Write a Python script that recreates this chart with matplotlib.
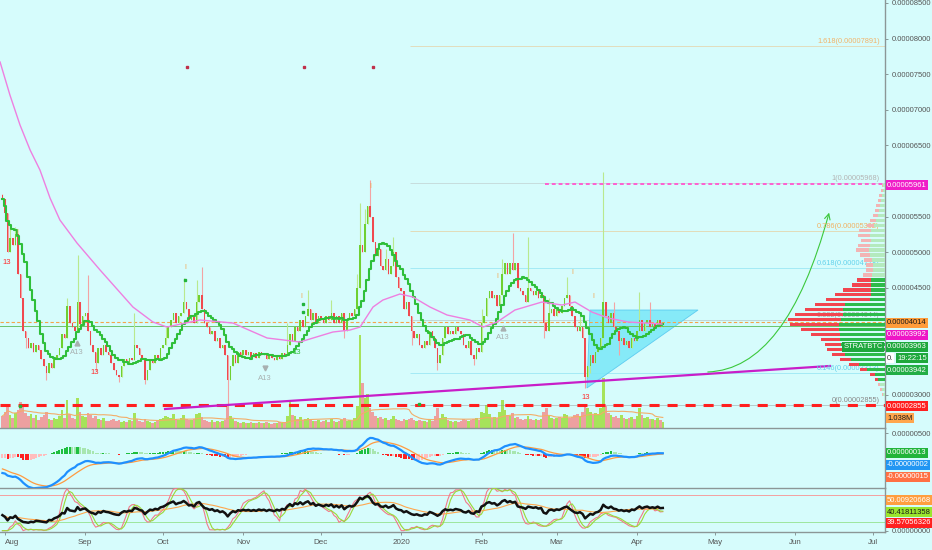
import matplotlib
matplotlib.use('Agg')
import matplotlib.pyplot as plt
import matplotlib.dates as mdates
from matplotlib.patches import Polygon
from matplotlib.ticker import FuncFormatter
import numpy as np
import pandas as pd

plt.rcParams['font.family'] = ['Liberation Sans', 'DejaVu Sans']

BG = '#d6fcfc'
W, H = 932, 550

# ---- daily candles (price in units of 1e-8 BTC), first candle 2019-07-31
start_day = '2019-07-31'
first_open = 5800
closes = [
    5750, 5550, 5000, 5200, 5100, 5250, 4700, 4350, 3900, 3800, 3650,
    3720, 3600, 3700, 3620, 3500, 3400, 3300, 3450, 3380, 3500,
    3560, 3650, 3850, 3800, 4250, 4000, 3950, 3900, 4300, 3990,
    4100, 4150, 3900, 3700, 3600, 3450, 3650, 3550, 3700, 3600,
    3560, 3450, 3350, 3280, 3250, 3400, 3500, 3450, 3520, 3480,
    3700, 3650, 3550, 3500, 3200, 3350, 3500, 3450, 3550, 3500,
    3650, 3700, 3800, 3950, 4050, 4150, 4000, 4100, 4150, 4300,
    4200, 4050, 4100, 4000, 4300, 4400, 4200, 4000, 3950, 3850,
    3900, 3750, 3800, 3650, 3700, 3550, 3200, 3400, 3550, 3450,
    3600, 3550, 3620, 3560, 3600, 3530, 3580, 3520, 3600, 3550,
    3580, 3500, 3560, 3520, 3480, 3550, 3500, 3580, 3540, 3700,
    3850, 3750, 3950, 3900, 4050, 3950, 4100, 4200, 4050, 4150,
    4000, 4100, 4050, 4000, 4100, 4050, 4150, 4000, 4100, 4000,
    4150, 3900, 4050, 4150, 4100, 4200, 4500, 5100, 5000, 5400,
    5650, 5500, 5150, 4950, 5050, 4800, 4750, 4900, 4700, 4800,
    5000, 4650, 4500, 4450, 4200, 4300, 4100, 3900, 3800, 3850,
    3700, 3650, 3750, 3700, 3900, 3800, 3650, 3450, 3550, 3800,
    3950, 3850, 3900, 3850, 3950, 3900, 3850, 3700, 3650, 3750,
    3550, 3500, 3650, 3600, 4000, 4100, 4350, 4450, 4350, 4400,
    4250, 4400, 4700, 4850, 4700, 4850, 4750, 4850, 4500, 4450,
    4400, 4300, 4500, 4450, 4400, 4450, 4350, 4400, 4000, 3900,
    4150, 4200, 4100, 4200, 4150, 4250, 4350, 4400, 4250, 4100,
    3950, 3900, 3950, 3800, 3250, 3400, 3550, 3450, 3600, 3650,
    3800, 4300, 4100, 4000, 4150, 3950, 3900, 3750, 3800, 3700,
    3750, 3650, 3800, 3750, 3900, 4050, 3900, 4000, 4050, 3950,
    4000, 3950, 4050, 3950, 3963,
]
# notable wicks, keyed by days after 2019-08-01
wick_highs = {-1: 5820, 2: 5400, 4: 5350, 24: 4350, 28: 4960, 32: 4680, 50: 4150,
              62: 3950, 69: 4640, 74: 4610, 76: 4790, 109: 4000, 117: 4470, 126: 4330,
              136: 4700, 137: 5690, 139: 5600, 141: 6014, 147: 5050, 150: 5213,
              184: 4200, 192: 4900, 196: 5270, 202: 5213, 210: 4350, 217: 4650,
              222: 4100, 231: 6126, 235: 4300, 245: 4440, 249: 4300}
wick_lows = {8: 3650, 16: 3200, 35: 3330, 44: 3180, 54: 3150, 86: 2868, 112: 3750,
             131: 3800, 157: 3700, 167: 3345, 181: 3420, 208: 3800, 224: 3092,
             226: 3300, 237: 3550}

# volume in millions
volume_m = [
    1.2, 1.6, 2.4, 1.3, 1.0, 1.5, 1.8, 2.6, 2.2, 1.5, 1.2,
    1.4, 1.0, 1.3, 0.8, 1.1, 1.3, 1.6, 0.9, 0.8, 1.0,
    0.9, 1.2, 1.8, 1.0, 2.8, 1.4, 1.0, 0.9, 3.0, 1.6,
    1.2, 1.1, 1.5, 1.3, 1.0, 1.2, 0.9, 0.8, 1.0, 0.7,
    0.7, 0.8, 0.9, 0.7, 0.8, 0.6, 0.7, 0.6, 0.8, 0.7,
    1.5, 0.9, 0.7, 0.6, 0.9, 0.7, 0.6, 0.5, 0.6, 0.7,
    0.9, 1.0, 1.2, 1.1, 1.0, 1.4, 0.9, 0.8, 1.0, 1.3,
    0.9, 0.8, 0.8, 0.9, 1.4, 1.5, 1.1, 0.8, 0.7, 0.6,
    0.8, 0.6, 0.7, 0.6, 0.7, 0.8, 2.4, 1.2, 0.9, 0.7,
    0.6, 0.5, 0.6, 0.5, 0.5, 0.6, 0.5, 0.5, 0.6, 0.5,
    0.5, 0.6, 0.5, 0.4, 0.5, 0.5, 0.6, 0.5, 0.6, 1.2,
    2.6, 1.3, 1.2, 0.9, 1.1, 0.8, 0.9, 1.0, 0.8, 0.7,
    0.7, 0.8, 0.6, 0.7, 0.8, 0.6, 0.9, 0.7, 0.6, 0.7,
    0.8, 1.0, 0.7, 0.8, 0.7, 1.0, 2.2, 9.3, 4.5, 3.0,
    3.4, 2.0, 1.6, 1.2, 1.0, 1.1, 0.9, 1.0, 0.8, 0.9,
    1.2, 0.9, 0.8, 0.7, 0.9, 0.8, 0.9, 1.0, 0.8, 0.7,
    0.8, 0.7, 0.7, 0.6, 0.9, 0.7, 1.2, 2.0, 1.0, 1.4,
    1.1, 0.8, 0.7, 0.6, 0.7, 0.6, 0.7, 0.9, 0.8, 0.7,
    0.8, 0.9, 1.0, 0.8, 1.6, 1.5, 2.3, 1.4, 1.0, 1.1,
    1.0, 1.6, 2.8, 1.8, 1.3, 1.2, 1.5, 1.0, 1.1, 0.9,
    0.8, 0.9, 1.2, 0.9, 0.8, 0.9, 0.8, 0.9, 1.6, 2.0,
    1.2, 1.0, 0.9, 1.0, 1.1, 1.0, 1.4, 1.3, 1.0, 1.1,
    1.3, 1.4, 1.2, 1.6, 2.4, 2.0, 1.6, 1.3, 1.5, 1.4,
    2.0, 5.0, 2.2, 1.5, 1.3, 1.1, 1.2, 1.0, 1.3, 1.0,
    0.9, 1.0, 1.1, 0.9, 1.2, 2.0, 1.3, 1.0, 1.1, 0.9,
    0.9, 0.8, 1.0, 0.8, 0.6,
]

# long moving average (pink)
ma_days = [-1.9, 1.9, 5.8, 9.7, 13.5, 17.4, 21.2, 27.8, 36.7, 49.4, 57.1, 62.5, 75.3, 88.0,
           101.2, 113.9, 126.6, 133.2, 137.1, 142.1, 145.9, 152.5, 157.5, 164.1, 170.7,
           179.5, 184.6, 190.0, 196.9, 207.3, 215.1, 220.1, 226.6, 232.8, 240.5, 253.7]
ma_vals = [7671, 7208, 6786, 6435, 6154, 5760, 5452, 5129, 4750, 4230, 4020, 3949, 4048, 4005,
           3795, 3739, 3879, 3907, 3949, 4230, 4328, 4413, 4371, 4230, 4118,
           4048, 3949, 4019, 4188, 4300, 4258, 4300, 4160, 4076, 4020, 3991]

# fibonacci retracement
fib_low, fib_high = 2855, 5968
fib_levels = [1.618, 1, 0.786, 0.618, 0.382, 0.146, 0]
fib_labels = ['1.618(0.00007891)', '1(0.00005968)', '0.786(0.00005302)',
              '0.618(0.00004778)', '0.382(0.00004044)', '0.146(0.00003313)',
              '0(0.00002855)']
fib_colors = ['#f2b46a', '#b4b4b4', '#f2b060', '#62d2ec', '#a4a4a4', '#62d2ec', '#8a8a8a']
fib_start_day = 156.4

# drawings
trend_days = [61.8, 318.5]
trend_prices = [2798, 3402]
triangle_days = [224.7, 225.9, 267.6]
triangle_prices = [3093, 4188, 4188]
target_level = 5961
target_start_day = 208.5
arrow_start = (270.3, 3317)
arrow_end = (318.5, 5593)

# visible range volume profile
profile_prices = list(range(5940, 2999, -70))
profile_total = [3, 4, 6, 7, 9, 10, 12, 15, 18, 26, 27, 24, 27, 29, 25, 21, 19, 19, 22, 28,
                 33, 42, 50, 59, 70, 80, 90, 97, 95, 84, 74, 64, 60, 58, 53, 45, 36, 25,
                 15, 10, 7, 5, 3]
profile_up = [2, 2, 3, 4, 5, 6, 7, 9, 11, 14, 15, 14, 15, 16, 15, 13, 12, 12, 13, 14,
              14, 14, 14, 15, 40, 42, 42, 44, 46, 46, 45, 45, 44, 42, 40, 34, 26, 18,
              10, 7, 5, 3, 2]

# indicator markers
red13_days = [0.8, 34.7, 224.3]
red13_prices = [4862, 3317, 2966]
a13_days = [27.8, 100.4, 192.3]
a13_prices = [3598, 3233, 3809]
a13_marks = ['^', 'v', '^']
a13_mark_prices = [3724, 3373, 3930]
green13_day, green13_price = 112.7, 3598
bar_days = [4.6, 69.5, 114.3, 140.9, 190.0, 218.9, 227.0]
bar_prices = [5270, 4792, 4371, 5916, 4652, 4708, 4371]
gdot_days = [69.5, 115.0, 115.0, 5.8, 160.0]
gdot_prices = [4609, 4272, 4160, 2840, 2868]
pdot_days = [70.3, 115.4, 142.0]
pdot_price = 7601

# right scale ticks left visible in the reference
price_ticks = [3000, 4500, 5000, 5500, 6500, 7000, 7500, 8000, 8500]

# indicator seeds (state before first visible candle)
macd_fast_seed, macd_slow_seed, macd_signal_seed = 6200, 6650, -330
rsi_gain_seed, rsi_loss_seed = 45, 80

# ---------------------------------------------------------------
dates = pd.date_range(start_day, periods=len(closes), freq='D')
xd = mdates.date2num(dates)
aug1 = mdates.date2num(pd.Timestamp('2019-08-01'))

c = np.array(closes, dtype=float)
o = np.concatenate([[first_open], c[:-1]])
hi = np.maximum(o, c)
lo = np.minimum(o, c)
for d, v in wick_highs.items():
    hi[d + 1] = max(hi[d + 1], v)
for d, v in wick_lows.items():
    lo[d + 1] = min(lo[d + 1], v)
up = c >= o


def ema(values, n, seed):
    k = 2.0 / (n + 1)
    out, e = [], seed
    for v in values:
        e = e + k * (v - e)
        out.append(e)
    return np.array(out)


macd = ema(c, 12, macd_fast_seed) - ema(c, 26, macd_slow_seed)
signal = ema(macd, 9, macd_signal_seed)
hist = macd - signal

diff = c - o
ag, al = rsi_gain_seed, rsi_loss_seed
rsi = []
for dv in diff:
    ag = (ag * 13 + max(dv, 0)) / 14
    al = (al * 13 + max(-dv, 0)) / 14
    rsi.append(100 - 100 / (1 + ag / al))
rsi = np.array(rsi)
rsi_ma = pd.Series(rsi).rolling(14, min_periods=1).mean()
ll = pd.Series(lo).rolling(14, min_periods=1).min()
hh = pd.Series(hi).rolling(14, min_periods=1).max()
raw_k = (pd.Series(c) - ll) / (hh - ll) * 100
stoch_k = raw_k.rolling(3, min_periods=1).mean()
stoch_d = stoch_k.rolling(3, min_periods=1).mean()

sma10 = pd.Series(c).rolling(10, min_periods=1).mean()
vol_ma = pd.Series(volume_m).rolling(20, min_periods=1).mean()

# ---------------------------------------------------------------
fig = plt.figure(figsize=(W / 100, H / 100), dpi=100)
fig.patch.set_facecolor(BG)
pw = 885 / W
ax = fig.add_axes([0, 122 / H, pw, 428 / H])
ax_macd = fig.add_axes([0, 62 / H, pw, 60 / H], sharex=ax)
ax_rsi = fig.add_axes([0, 18 / H, pw, 44 / H], sharex=ax)
ax_vol = ax.twinx()
ax_vp = ax.twiny()
ax_vol.set_zorder(1)
ax.set_zorder(2)
ax_vp.set_zorder(3)
for a in (ax, ax_macd, ax_rsi, ax_vol, ax_vp):
    a.patch.set_visible(False)

price_fmt = FuncFormatter(lambda v, p: f'{v * 1e-8:.8f}')
for a in (ax, ax_macd, ax_rsi):
    a.yaxis.tick_right()
    a.yaxis.set_major_formatter(price_fmt)
    a.tick_params(axis='y', length=2.5, width=0.6, color='#7a8a8a', labelcolor='#555555',
                  labelsize=5.5, pad=2)
    for s in ('top', 'left'):
        a.spines[s].set_visible(False)
    for s in ('right', 'bottom'):
        a.spines[s].set_color('#8c9696')
        a.spines[s].set_linewidth(1.0)
for a in (ax_vol, ax_vp):
    for s in a.spines.values():
        s.set_visible(False)
ax_vol.set_yticks([])
ax_vp.set_xticks([])

ax.set_xlim(aug1 - 1.93, aug1 + 339.8)
ax.set_ylim(2531, 8542)
ax.set_yticks(price_ticks)
ax.tick_params(axis='x', bottom=False, labelbottom=False)
ax_macd.tick_params(axis='x', bottom=False, labelbottom=False)

# candles
body_col = np.where(up, '#6fd031', '#f0494f')
wick_col = np.where(up, '#b9e98e', '#f3a3a3')
ax.vlines(xd, lo, hi, colors=wick_col, lw=0.8, zorder=3)
ax.bar(xd, np.maximum(np.abs(c - o), 10), bottom=np.minimum(o, c), width=0.6,
       color=body_col, linewidth=0, zorder=4)

ax.plot(xd, sma10, drawstyle='steps-mid', color='#2fbf3a', lw=1.5, zorder=5)
ax.plot(aug1 + np.array(ma_days), ma_vals, color='#ee7fe0', lw=1.0, zorder=5)

ax.axhline(4014, color='#f5a44a', lw=0.8, ls=(0, (3, 2)), zorder=2)
ax.axhline(3963, color='#6cc46c', lw=0.7, zorder=2)
ax.axhline(2855, color='#ff1f1f', lw=2.2, ls=(0, (3.3, 2.6)), zorder=6)
xmax = aug1 + 339.8
ax.hlines(target_level, aug1 + target_start_day, xmax, color='#ff5fd0', lw=1.4,
          ls=(0, (2, 1.5)), zorder=6)
for lvl, lab, col in zip(fib_levels, fib_labels, fib_colors):
    p = fib_low + lvl * (fib_high - fib_low)
    ax.hlines(p, aug1 + fib_start_day, xmax, color=col, lw=0.6, alpha=0.5, zorder=1)
    ax.text(0.994, p + 15, lab, transform=ax.get_yaxis_transform(), ha='right',
            va='bottom', fontsize=5.3, color=col, zorder=8)

ax.plot(aug1 + np.array(trend_days), trend_prices, color='#c81ec8', lw=1.6, zorder=6)
tri = Polygon(list(zip(aug1 + np.array(triangle_days), triangle_prices)), closed=True,
              fc='#7ee8f8', ec='#55c8f0', lw=0.6, alpha=0.9, zorder=1.5)
ax.add_patch(tri)
ax.annotate('', xy=(aug1 + arrow_end[0], arrow_end[1]),
            xytext=(aug1 + arrow_start[0], arrow_start[1]),
            arrowprops=dict(arrowstyle='->', color='#3cc83c', lw=0.8,
                            connectionstyle='angle3,angleA=0,angleB=75'), zorder=6)

for d, p in zip(red13_days, red13_prices):
    ax.text(aug1 + d, p, '13', color='#ff2a2a', fontsize=5.5, ha='center', va='center', zorder=7)
for d, p, m, mp in zip(a13_days, a13_prices, a13_marks, a13_mark_prices):
    ax.text(aug1 + d, p, 'A13', color='#a8b0b0', fontsize=5.5, ha='center', va='center', zorder=7)
    ax.plot(aug1 + d, mp, m, color='#a8b0b0', ms=3.5, zorder=7)
ax.text(aug1 + green13_day, green13_price, '13', color='#2fbf3a', fontsize=5.5,
        ha='center', va='center', zorder=7)
for d, p in zip(bar_days, bar_prices):
    ax.text(aug1 + d, p, 'I', color='#f5a44a', fontsize=5, ha='center', va='center', zorder=7)
ax.plot(aug1 + np.array(gdot_days), gdot_prices, 's', color='#22b43a', ms=1.6, zorder=7)
ax.plot(aug1 + np.array(pdot_days), [pdot_price] * len(pdot_days), 's', color='#c0304a',
        ms=1.6, zorder=7)

# volume
vol_col = np.where(up, '#a6e35a', '#eda0a0')
ax_vol.set_ylim(0, 42.8)
ax_vol.bar(xd, volume_m, width=1.0, color=vol_col, linewidth=0)
ax_vol.plot(xd, vol_ma, color='#f3ad68', lw=0.8)

# volume profile
ax_vp.set_xlim(885, 0)
solid = [(3200 <= p <= 4620) for p in profile_prices]
tot_col = ['#f2454f' if s else '#f2b4b4' for s in solid]
up_col = ['#2dbb4a' if s else '#b4eabe' for s in solid]
ax_vp.barh(profile_prices, profile_total, height=44, color=tot_col, linewidth=0)
ax_vp.barh(profile_prices, profile_up, height=44, color=up_col, linewidth=0)

# MACD
ax_macd.set_ylim(-809, 619)
ax_macd.set_yticks([500])
hcol = []
for i, hv in enumerate(hist):
    prev = hist[i - 1] if i else hv
    if hv >= 0:
        hcol.append('#1fbf3f' if hv >= prev else '#a8e6b0')
    else:
        hcol.append('#ff2020' if hv < prev else '#ffbcbc')
ax_macd.bar(xd, hist, width=0.8, color=hcol, linewidth=0)
ax_macd.plot(xd, signal, color='#ff9a40', lw=0.9)
ax_macd.plot(xd, macd, color='#1e90ff', lw=1.6)

# RSI / stochastic
ax_rsi.set_ylim(-3, 96)
ax_rsi.set_yticks([0])
ax_rsi.axhline(80, color='#f4a0a0', lw=0.7)
ax_rsi.axhline(20, color='#9ee69e', lw=0.7)
ax_rsi.plot(xd, stoch_k, color='#f27a8a', lw=0.8)
ax_rsi.plot(xd, stoch_d, color='#9ad93a', lw=0.8)
ax_rsi.plot(xd, rsi_ma, color='#ffa64d', lw=0.8)
ax_rsi.plot(xd, rsi, color='#111111', lw=1.8)

ax_rsi.xaxis.set_major_locator(mdates.MonthLocator())
ax_rsi.xaxis.set_major_formatter(FuncFormatter(
    lambda v, p: str(mdates.num2date(v).year) if mdates.num2date(v).month == 1
    else mdates.num2date(v).strftime('%b')))
ax_rsi.tick_params(axis='x', length=2, width=0.6, color='#7a8a8a', labelcolor='#555555',
                   labelsize=5.8, pad=3)
for lab in ax_rsi.get_xticklabels():
    if lab.get_text() == 'Aug':
        lab.set_horizontalalignment('left')


# price tags on the right scale
def side_tag(ypx, text, bg, fg='white', xpx=887, ha='left'):
    fig.text(xpx / W, 1 - ypx / H, text, ha=ha, va='center', fontsize=5.5, color=fg,
             bbox=dict(boxstyle='square,pad=0.15', fc=bg, ec='none'), zorder=20)


side_tag(185, '0.00005961', '#f01ec8')
side_tag(323, '0.00004014', '#ff9c3a', '#1a1a1a')
side_tag(335, '0.00003992', '#ee16c6')
side_tag(347, '0.00003963', '#1ea83c')
side_tag(347, 'STRATBTC', '#1ea83c', xpx=883, ha='right')
side_tag(358, '0.', '#ffffff', '#333333')
side_tag(358, '19:22:15', '#1ea83c', xpx=897)
side_tag(370, '0.00003942', '#22ad45')
side_tag(406, '0.00002855', '#ff1f1f')
side_tag(418, '1.038M', '#ffa64d', '#1a1a1a')
side_tag(453, '0.00000013', '#22b43a')
side_tag(465, '-0.00000002', '#2196f3')
side_tag(477, '-0.00000015', '#ff7043')
side_tag(500, '50.00920668', '#ff9e40')
side_tag(512, '40.41811358', '#9ae62e', '#1a1a1a')
side_tag(523, '39.57056326', '#ff1f1f')

fig.savefig('out.png', dpi=100, facecolor=BG)
